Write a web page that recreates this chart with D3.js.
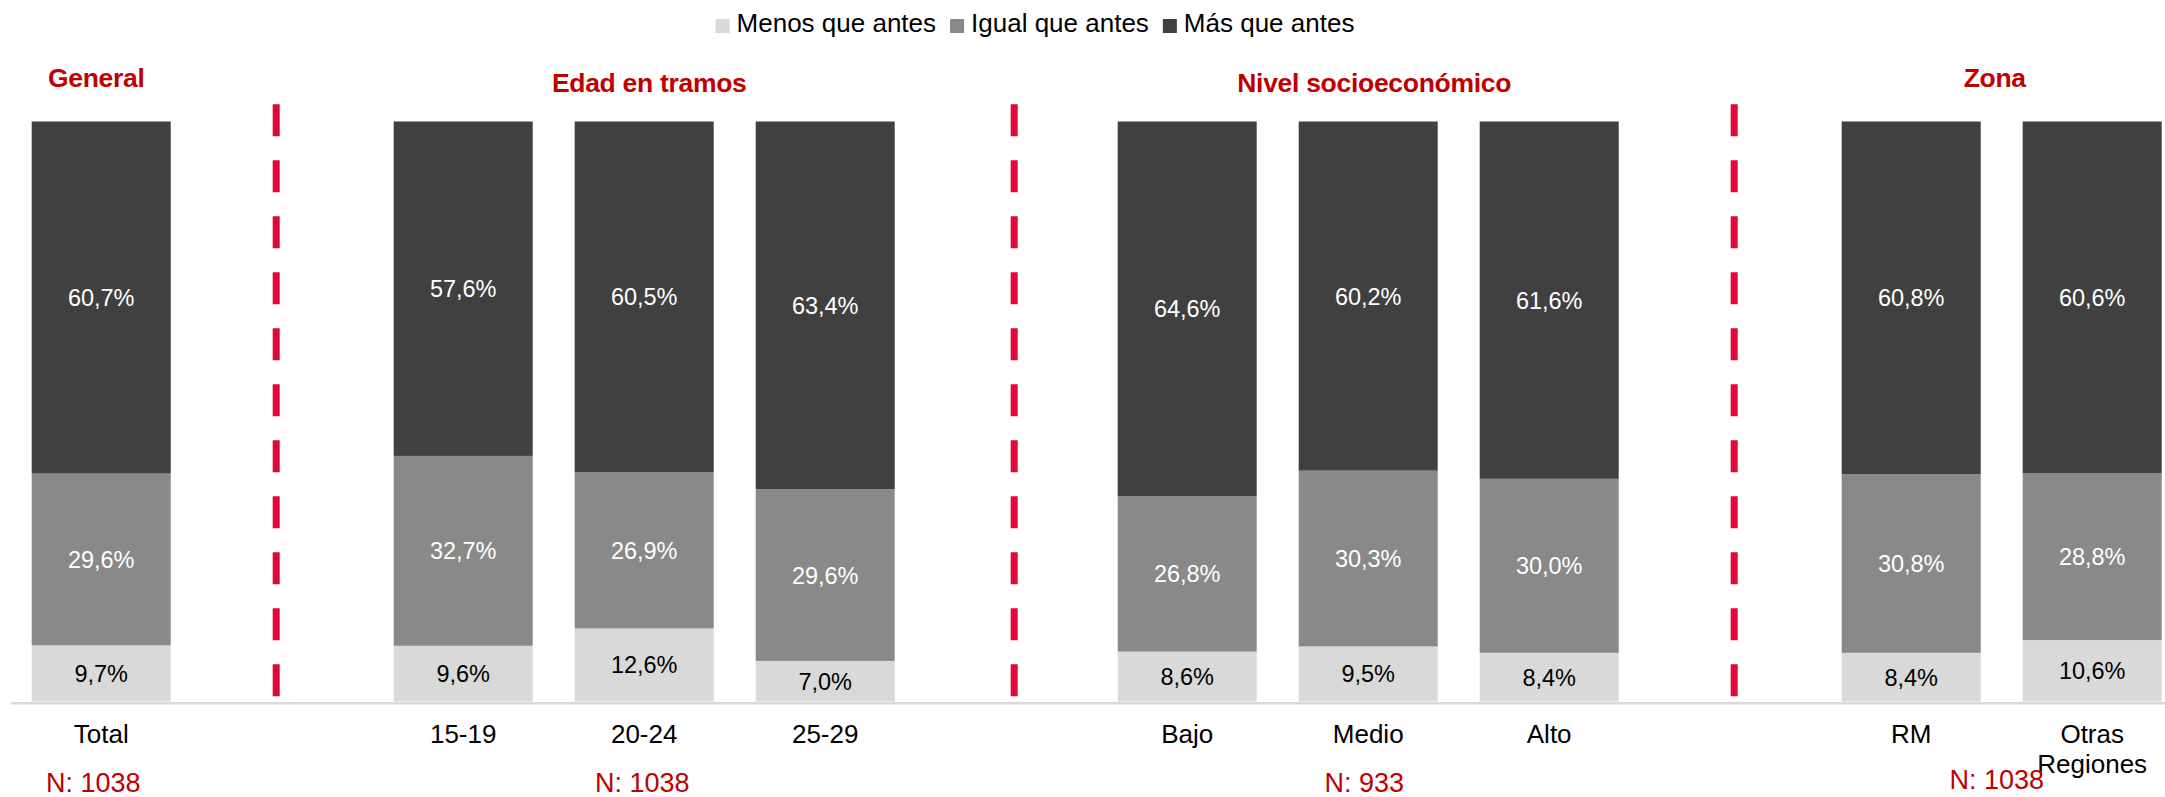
<!DOCTYPE html>
<html>
<head>
<meta charset="utf-8">
<script src="https://cdn.jsdelivr.net/npm/d3@7"></script>
<style>
    body { margin: 0; background: #fff; }
    svg { display: block; font-family: "Liberation Sans", Arial, sans-serif; }
</style>
</head>
<body>
<svg id="chart"></svg>
<script>
// categories, in drawing order
const categories = ['Total', '15-19', '20-24', '25-29', 'Bajo', 'Medio', 'Alto', 'RM', 'Otras Regiones'];

// series values (%)
const seriesNames = ['Menos que antes', 'Igual que antes', 'Más que antes'];
const menos = [9.7, 9.6, 12.6, 7.0, 8.6, 9.5, 8.4, 8.4, 10.6];
const igual = [29.6, 32.7, 26.9, 29.6, 26.8, 30.3, 30.0, 30.8, 28.8];
const mas   = [60.7, 57.6, 60.5, 63.4, 64.6, 60.2, 61.6, 60.8, 60.6];

// groups shown above the bars
const groupNames   = ['General', 'Edad en tramos', 'Nivel socioeconómico', 'Zona'];
const groupMembers = [['Total'], ['15-19', '20-24', '25-29'], ['Bajo', 'Medio', 'Alto'], ['RM', 'Otras Regiones']];
const groupN       = ['N: 1038', 'N: 1038', 'N: 933', 'N: 1038'];

const colors = ['#d9d9d9', '#898989', '#404040'];
const labelColors = ['#000', '#fff', '#fff'];
const red = '#c00000';
const dashRed = '#e2063b';

const width = 2165, height = 797;
const margin = { top: 121.5, bottom: 95.5, left: 10.7, right: -17.7 };

const svg = d3.select('#chart')
    .attr('width', width)
    .attr('height', height);

// slots: real bars plus one empty slot between groups (for the dashed divider)
let slots = [];
groupMembers.forEach((m, i) => {
    if (i > 0) slots.push('gap' + i);
    slots = slots.concat(m);
});

const x = d3.scaleBand()
    .domain(slots)
    .range([margin.left, width - margin.right])
    .paddingInner(0.232)
    .paddingOuter(0.116);

const y = d3.scaleLinear()
    .domain([0, 1])
    .range([height - margin.bottom, margin.top]);

const table = categories.map((c, i) => ({ cat: c, s0: menos[i], s1: igual[i], s2: mas[i] }));
const stack = d3.stack()
    .keys(['s0', 's1', 's2'])
    .offset(d3.stackOffsetExpand);
const layers = stack(table);

const fmt = d3.formatLocale({ decimal: ',', thousands: '.', grouping: [3], currency: ['', ''] }).format('.1f');

// bars
const layerG = svg.append('g').selectAll('g')
    .data(layers)
    .join('g')
        .attr('fill', (d, i) => colors[i]);

layerG.selectAll('rect')
    .data(d => d)
    .join('rect')
        .attr('x', d => x(d.data.cat))
        .attr('y', d => y(d[1]))
        .attr('width', x.bandwidth())
        .attr('height', d => y(d[0]) - y(d[1]));

// value labels
layers.forEach((layer, i) => {
    svg.append('g').selectAll('text')
        .data(layer)
        .join('text')
            .attr('x', d => x(d.data.cat) + x.bandwidth() / 2)
            .attr('y', d => (y(d[0]) + y(d[1])) / 2)
            .attr('dy', '0.36em')
            .attr('text-anchor', 'middle')
            .attr('font-size', 23.5)
            .attr('fill', labelColors[i])
            .text(d => fmt(d.data[layer.key]) + '%');
});

// x axis
const xAxis = d3.axisBottom(x).tickSize(0).tickFormat('');
const xAxisGroup = svg.append('g')
    .attr('class', 'axis x-axis')
    .attr('transform', `translate(0,${y(0) + 1.2})`)
    .call(xAxis);
xAxisGroup.select('.domain')
    .attr('stroke', '#d9d9d9')
    .attr('stroke-width', 2.5);

svg.append('g').selectAll('text')
    .data(categories)
    .join('text')
        .attr('x', d => x(d) + x.bandwidth() / 2)
        .attr('y', y(0) + 41.5)
        .attr('text-anchor', 'middle')
        .attr('font-size', 26)
        .attr('fill', '#000')
        .each(function(d) {
            const words = d.split(' ');
            d3.select(this).selectAll('tspan')
                .data(words)
                .join('tspan')
                    .attr('x', x(d) + x.bandwidth() / 2)
                    .attr('dy', (w, j) => j === 0 ? 0 : 30)
                    .text(w => w);
        });

// dashed dividers in the gap slots
const dividerNudge = [-6, 8, 4];
svg.append('g').selectAll('line')
    .data(slots.filter(s => s.startsWith('gap')))
    .join('line')
        .attr('x1', (d, i) => x(d) + x.bandwidth() / 2 + dividerNudge[i])
        .attr('x2', (d, i) => x(d) + x.bandwidth() / 2 + dividerNudge[i])
        .attr('y1', y(1) - 17.2)
        .attr('y2', y(0) - 5.2)
        .attr('stroke', dashRed)
        .attr('stroke-width', 7)
        .attr('stroke-dasharray', '32 24');

// group titles and sample sizes
const groupCenter = m => (x(m[0]) + x(m[m.length - 1]) + x.bandwidth()) / 2;
const titleBaseline = [87, 92, 92, 87];
const titleNudge = [-5, 5, 6, -7];

svg.append('g').selectAll('text')
    .data(groupNames)
    .join('text')
        .attr('x', (d, i) => groupCenter(groupMembers[i]) + titleNudge[i])
        .attr('y', (d, i) => titleBaseline[i])
        .attr('text-anchor', 'middle')
        .attr('font-size', 26.5)
        .attr('font-weight', 'bold')
        .attr('letter-spacing', -0.3)
        .attr('fill', red)
        .text(d => d);

const nNudge = [-8, -2, -4, -5];
svg.append('g').selectAll('text')
    .data(groupN)
    .join('text')
        .attr('x', (d, i) => groupCenter(groupMembers[i]) + nNudge[i])
        .attr('y', (d, i) => i === 3 ? 789 : 792)
        .attr('text-anchor', 'middle')
        .attr('font-size', 27)
        .attr('fill', red)
        .text(d => d);

// legend, centred above the chart
const legend = svg.append('g').attr('class', 'legend');
let lx = 0;
seriesNames.forEach((name, i) => {
    const item = legend.append('g').attr('transform', `translate(${lx},0)`);
    item.append('rect')
        .attr('x', 0)
        .attr('y', 19)
        .attr('width', 14)
        .attr('height', 14)
        .attr('fill', colors[i]);
    const t = item.append('text')
        .attr('x', 21)
        .attr('y', 32)
        .attr('font-size', 26)
        .attr('fill', '#000')
        .text(name);
    lx += 21 + t.node().getComputedTextLength() + 14;
});
const legendWidth = lx - 14;
legend.attr('transform', `translate(${1035 - legendWidth / 2},0)`);
</script>
</body>
</html>
